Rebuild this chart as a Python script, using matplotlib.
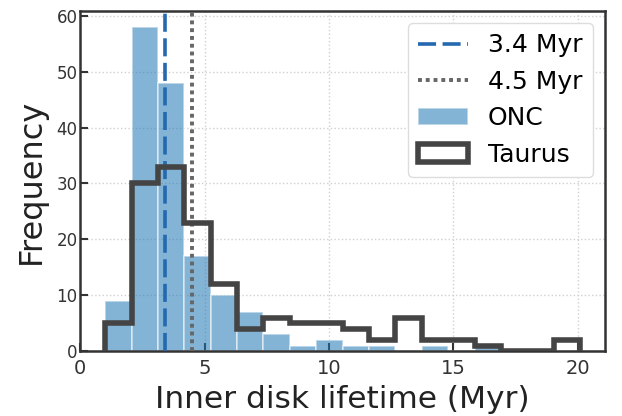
import numpy as np
import matplotlib.pyplot as plt

# shared bin edges (Myr)
edges = np.linspace(1.0, 20.09, 19)

onc_counts = [9, 58, 48, 17, 10, 7, 3, 1, 2, 1, 1, 0, 1, 0, 1, 0, 0, 0]
taurus_counts = [5, 30, 33, 23, 12, 4, 6, 5, 5, 4, 2, 6, 2, 2, 1, 0, 0, 2]

onc_median = 3.4
taurus_median = 4.5

centers = 0.5 * (edges[:-1] + edges[1:])

fig, ax = plt.subplots(figsize=(6.22, 4.16), dpi=100)
fig.subplots_adjust(left=0.129, right=0.973, top=0.974, bottom=0.156)

ax.grid(True, linestyle=":", color="#d0d0d0", linewidth=1)
ax.set_axisbelow(True)

ax.axvline(onc_median, color="#2468b0", linestyle=(0, (5, 1.8)), linewidth=2.6,
           label=f"{onc_median} Myr", zorder=3)
ax.axvline(taurus_median, color="#666666", linestyle=(0, (1, 1)), linewidth=2.8,
           label=f"{taurus_median} Myr", zorder=3)
ax.hist(centers, bins=edges, weights=onc_counts, color="#1f77b4", alpha=0.55,
        edgecolor="white", linewidth=1.2, label="ONC", zorder=2)
ax.hist(centers, bins=edges, weights=taurus_counts, histtype="step",
        color="#444444", linewidth=4, label="Taurus", zorder=4)

ax.set_xlim(0, 21.1)
ax.set_ylim(0, 60.9)
ax.set_xticks([0, 5, 10, 15, 20])
ax.set_yticks([0, 10, 20, 30, 40, 50, 60])

for s in ax.spines.values():
    s.set_color("#333333")
    s.set_linewidth(1.8)

ax.tick_params(axis="x", direction="in", length=6, width=1.5, color="#333333",
               labelsize=14, labelcolor="#333333", pad=6)
ax.tick_params(axis="y", direction="in", length=6, width=1.5, color="#333333",
               labelsize=12, labelcolor="#333333", pad=2)

ax.set_xlabel("Inner disk lifetime (Myr)", fontsize=22.5, color="#222222", labelpad=5)
ax.set_ylabel("Frequency", fontsize=23, color="#222222", labelpad=7)

leg = ax.legend(loc="upper right", fontsize=18, handlelength=2.0,
                handletextpad=0.8, borderpad=0.4, labelspacing=0.5,
                framealpha=1)
leg.get_frame().set_edgecolor("#dddddd")

fig.savefig("out.png", dpi=100)
